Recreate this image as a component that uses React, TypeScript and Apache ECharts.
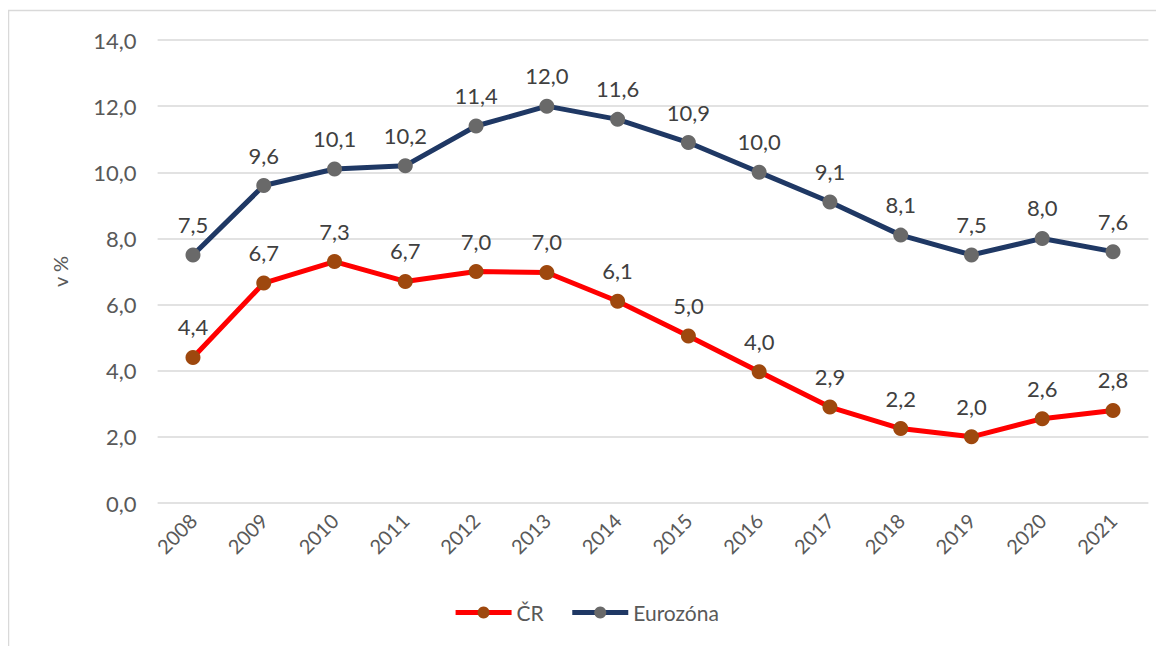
import React, { useEffect, useRef } from "react";
import * as echarts from "echarts";

const years = ["2008", "2009", "2010", "2011", "2012", "2013", "2014", "2015", "2016", "2017", "2018", "2019", "2020", "2021"];
const cr = [4.4, 6.65, 7.3, 6.7, 7.0, 6.97, 6.1, 5.05, 3.97, 2.9, 2.25, 2.0, 2.55, 2.8];
const crLabels = ["4,4", "6,7", "7,3", "6,7", "7,0", "7,0", "6,1", "5,0", "4,0", "2,9", "2,2", "2,0", "2,6", "2,8"];
const ez = [7.5, 9.6, 10.1, 10.2, 11.4, 12.0, 11.6, 10.9, 10.0, 9.1, 8.1, 7.5, 8.0, 7.6];

const FONT = "Lato, 'Open Sans', sans-serif";

export default function App() {
  const ref = useRef<HTMLDivElement>(null);
  useEffect(() => {
    const chart = echarts.init(ref.current!, null, { renderer: "svg" });
    chart.setOption({
      animation: false,
      backgroundColor: "#fff",
      textStyle: { fontFamily: FONT },
      graphic: [
        {
          type: "rect",
          shape: { x: 0.5, y: 2.5, width: 1200, height: 700 },
          style: { fill: "none", stroke: "#D9D9D9", lineWidth: 1.5 },
          silent: true,
        },
      ],
      grid: { left: 149.6, right: 15.6, top: 32, bottom: 143, containLabel: false },
      legend: {
        bottom: 18,
        left: "center",
        itemWidth: 56,
        itemHeight: 15,
        itemGap: 26,
        lineStyle: { width: 5 },
        textStyle: { fontSize: 21, color: "#595959", fontFamily: FONT },
        data: ["ČR", "Eurozóna"],
      },
      xAxis: {
        type: "category",
        data: years,
        boundaryGap: true,
        axisLine: { show: false },
        axisTick: { show: false },
        axisLabel: { rotate: 45, fontSize: 20, color: "#595959", margin: 14, fontFamily: FONT },
      },
      yAxis: {
        type: "value",
        min: 0,
        max: 14,
        interval: 2,
        name: "v %",
        nameLocation: "middle",
        nameGap: 88,
        nameRotate: 90,
        nameTextStyle: { fontSize: 20, color: "#595959", fontFamily: FONT },
        axisLine: { show: false },
        axisTick: { show: false },
        splitLine: { lineStyle: { color: "#D9D9D9", width: 1.5 } },
        axisLabel: {
          fontSize: 22,
          color: "#595959",
          margin: 21,
          fontFamily: FONT,
          formatter: (v: number) => v.toFixed(1).replace(".", ","),
        },
      },
      series: [
        {
          name: "ČR",
          type: "line",
          data: cr,
          symbol: "circle",
          symbolSize: 15,
          lineStyle: { color: "#FF0000", width: 5 },
          itemStyle: { color: "#9E480E" },
          label: {
            show: true,
            position: "top",
            distance: 12,
            fontSize: 22,
            color: "#404040",
            fontFamily: FONT,
            formatter: (p: any) => crLabels[p.dataIndex],
          },
        },
        {
          name: "Eurozóna",
          type: "line",
          data: ez,
          symbol: "circle",
          symbolSize: 15,
          lineStyle: { color: "#1F3864", width: 5 },
          itemStyle: { color: "#696969" },
          label: {
            show: true,
            position: "top",
            distance: 12,
            fontSize: 22,
            color: "#404040",
            fontFamily: FONT,
            formatter: (p: any) => (p.value as number).toFixed(1).replace(".", ","),
          },
        },
      ],
    });
    return () => chart.dispose();
  }, []);
  return <div ref={ref} style={{ width: 1156, height: 638 }} />;
}
